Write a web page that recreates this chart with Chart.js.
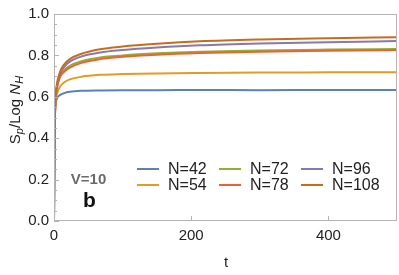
<!DOCTYPE html>
<html>
<head>
<meta charset="utf-8">
<script src="https://cdn.jsdelivr.net/npm/chart.js@4.4.1/dist/chart.umd.min.js"></script>
<style>
  html, body { margin: 0; padding: 0; background: #fff; }
</style>
</head>
<body>
<canvas id="myChart" width="399" height="275"></canvas>
<script>
// time samples (t)
var times = [0, 0.5, 1, 2, 4, 8.7, 15, 23, 40, 67, 100, 150, 212, 300, 400, 500];

// S_p / Log N_H for each system size
var n42  = [0, 0.30, 0.45, 0.55, 0.590, 0.608, 0.618, 0.624, 0.629, 0.631, 0.632, 0.632, 0.633, 0.632, 0.633, 0.633];
var n54  = [0, 0.30, 0.45, 0.56, 0.610, 0.648, 0.670, 0.684, 0.697, 0.706, 0.710, 0.713, 0.715, 0.717, 0.718, 0.719];
var n72  = [0, 0.30, 0.46, 0.57, 0.640, 0.700, 0.730, 0.750, 0.772, 0.790, 0.800, 0.810, 0.818, 0.824, 0.828, 0.831];
var n78  = [0, 0.30, 0.46, 0.57, 0.635, 0.695, 0.722, 0.741, 0.764, 0.782, 0.793, 0.803, 0.811, 0.818, 0.822, 0.826];
var n96  = [0, 0.30, 0.46, 0.58, 0.650, 0.710, 0.745, 0.770, 0.795, 0.814, 0.826, 0.838, 0.849, 0.858, 0.864, 0.869];
var n108 = [0, 0.30, 0.46, 0.58, 0.655, 0.720, 0.757, 0.782, 0.808, 0.830, 0.843, 0.856, 0.868, 0.877, 0.883, 0.888];

var seriesLabels = ['N=42', 'N=54', 'N=72', 'N=78', 'N=96', 'N=108'];
var seriesValues = [n42, n54, n72, n78, n96, n108];
var seriesColors = ['#5e81b5', '#e19c24', '#8fb032', '#eb6235', '#8778b3', '#c56e1a'];

var xTicks = [0, 200, 400];
var yTicks = [0, 0.2, 0.4, 0.6, 0.8, 1.0];

var FONT = '"Liberation Sans", Arial, sans-serif';
var FRAME = '#b4b4b4';

var datasets = seriesValues.map(function (vals, i) {
  return {
    label: seriesLabels[i],
    data: vals.map(function (v, j) { return { x: times[j], y: v }; }),
    borderColor: seriesColors[i],
    borderWidth: 2,
    pointRadius: 0,
    fill: false,
    cubicInterpolationMode: 'monotone',
    order: seriesValues.length - i
  };
});

// frame, inward ticks, axis titles, labels and the legend
var decor = {
  id: 'decor',
  afterDraw: function (chart) {
    var ctx = chart.ctx;
    var a = chart.chartArea;
    var xs = chart.scales.x, ys = chart.scales.y;
    ctx.save();

    // frame
    ctx.strokeStyle = FRAME;
    ctx.lineWidth = 1;
    ctx.strokeRect(a.left + 0.5, a.top + 0.5, a.right - a.left - 1, a.bottom - a.top - 1);

    // y ticks, major + minor
    ctx.beginPath();
    for (var v = 0; v <= 1.0001; v += 0.05) {
      var py = Math.round(ys.getPixelForValue(v)) + 0.5;
      var major = Math.abs(v * 5 - Math.round(v * 5)) < 1e-6;
      ctx.moveTo(a.left, py);
      ctx.lineTo(a.left + (major ? 5 : 3), py);
    }
    xTicks.forEach(function (t) {
      var px = Math.round(xs.getPixelForValue(t)) + 0.5;
      ctx.moveTo(px, a.bottom);
      ctx.lineTo(px, a.bottom - 5);
    });
    ctx.stroke();

    // x title
    ctx.fillStyle = '#222';
    ctx.font = '15px ' + FONT;
    ctx.textAlign = 'center';
    ctx.textBaseline = 'middle';
    ctx.fillText('t', 226, 263);

    // y title  S_p/Log N_H
    ctx.save();
    ctx.translate(16, 110);
    ctx.rotate(-Math.PI / 2);
    var parts = [
      { s: 'S', f: '15px ' + FONT, dy: 0 },
      { s: 'p', f: 'italic 11px ' + FONT, dy: 4 },
      { s: '/Log ', f: '15px ' + FONT, dy: 0 },
      { s: 'N', f: 'italic 15px ' + FONT, dy: 0 },
      { s: 'H', f: 'italic 11px ' + FONT, dy: 4 }
    ];
    var total = 0;
    parts.forEach(function (p) { ctx.font = p.f; total += ctx.measureText(p.s).width; });
    var cx = -total / 2;
    ctx.textAlign = 'left';
    ctx.textBaseline = 'middle';
    parts.forEach(function (p) {
      ctx.font = p.f;
      ctx.fillText(p.s, cx, p.dy);
      cx += ctx.measureText(p.s).width;
    });
    ctx.restore();

    // panel labels
    ctx.textAlign = 'center';
    ctx.fillStyle = '#6a6a6a';
    ctx.font = 'bold 15px ' + FONT;
    ctx.fillText('V=10', 88.5, 180);
    ctx.fillStyle = '#111';
    ctx.font = 'bold 21px ' + FONT;
    ctx.fillText('b', 89.5, 201);

    // legend, 3 columns x 2 rows
    ctx.font = '16px ' + FONT;
    ctx.textAlign = 'left';
    ctx.fillStyle = '#222';
    ctx.lineWidth = 2;
    var colX = [137, 219, 301], rowY = [169, 185];
    seriesLabels.forEach(function (lab, i) {
      var x0 = colX[Math.floor(i / 2)], y0 = rowY[i % 2];
      ctx.strokeStyle = seriesColors[i];
      ctx.beginPath();
      ctx.moveTo(x0, y0);
      ctx.lineTo(x0 + 22, y0);
      ctx.stroke();
      ctx.fillText(lab, x0 + 31, y0 + 1);
    });
    ctx.restore();
  }
};

var ctx = document.getElementById('myChart');
var myChart = new Chart(ctx, {
  type: 'line',
  data: { datasets: datasets },
  options: {
    responsive: false,
    animation: false,
    events: [],
    layout: { padding: { top: 11, right: 2, left: 0, bottom: 0 } },
    plugins: { legend: { display: false }, tooltip: { enabled: false } },
    scales: {
      x: {
        type: 'linear',
        min: 0,
        max: 500,
        afterFit: function (s) { s.height = 54; },
        afterBuildTicks: function (s) { s.ticks = xTicks.map(function (v) { return { value: v }; }); },
        grid: { display: false, drawTicks: false },
        border: { display: false },
        ticks: { color: '#222', font: { family: FONT, size: 15 }, padding: 6, maxRotation: 0 }
      },
      y: {
        min: 0,
        max: 1,
        afterFit: function (s) { s.width = 54; },
        afterBuildTicks: function (s) { s.ticks = yTicks.map(function (v) { return { value: v }; }); },
        grid: { display: false, drawTicks: false },
        border: { display: false },
        ticks: {
          color: '#222',
          font: { family: FONT, size: 15 },
          padding: 5,
          callback: function (v) { return Number(v).toFixed(1); }
        }
      }
    }
  },
  plugins: [decor]
});
</script>
</body>
</html>
